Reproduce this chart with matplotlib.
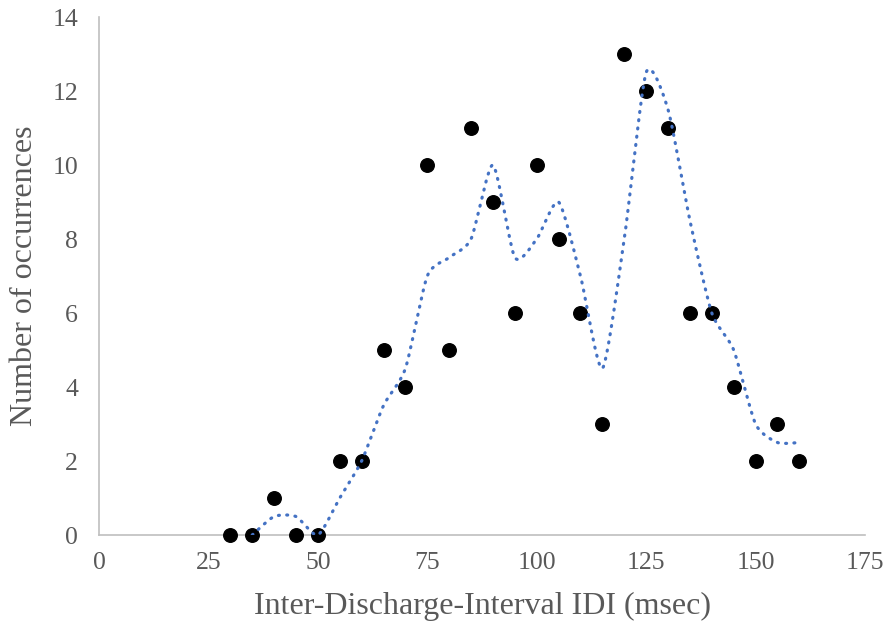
import numpy as np
import matplotlib
matplotlib.use("Agg")
import matplotlib.pyplot as plt

idi = [30, 35, 40, 45, 50, 55, 60, 65, 70, 75, 80, 85, 90, 95, 100, 105, 110,
       115, 120, 125, 130, 135, 140, 145, 150, 155, 160]
counts = [0, 0, 1, 0, 0, 2, 2, 5, 4, 10, 5, 11, 9, 6, 10, 8, 6,
          3, 13, 12, 11, 6, 6, 4, 2, 3, 2]
xticks = [0, 25, 50, 75, 100, 125, 150, 175]
yticks = [0, 2, 4, 6, 8, 10, 12, 14]

plt.rcParams['font.family'] = ['Liberation Serif', 'DejaVu Serif']

# 2-period moving average trendline
x = np.array(idi, float)
y = np.array(counts, float)
ma_x = x[1:]
ma_y = (y[1:] + y[:-1]) / 2.0

def smooth(px, py, n=30, k=9.0):
    xs, ys = [], []
    P = np.column_stack([px, py])
    for i in range(len(P) - 1):
        p0 = P[i - 1] if i > 0 else P[i]
        p1 = P[i]
        p2 = P[i + 1]
        p3 = P[i + 2] if i + 2 < len(P) else P[i + 1]
        c1 = p1 + (p2 - p0) / k
        c2 = p2 - (p3 - p1) / k
        t = np.linspace(0, 1, n, endpoint=(i == len(P) - 2))[:, None]
        B = ((1 - t) ** 3) * p1 + 3 * ((1 - t) ** 2) * t * c1 + 3 * (1 - t) * t ** 2 * c2 + t ** 3 * p2
        xs.append(B[:, 0]); ys.append(B[:, 1])
    return np.concatenate(xs), np.concatenate(ys)

sx, sy = smooth(ma_x, ma_y)

fig = plt.figure(figsize=(8.86, 6.26), dpi=100)
ax = fig.add_axes([99/886, 91/626, 766/886, 518/626])
ax.scatter(x, y, s=95, color='black', zorder=3, clip_on=False)
ax.plot(sx, sy, color='#4472C4', lw=2.3, linestyle=(0, (0.3, 2.3)),
        dash_capstyle='round', zorder=4)

ax.set_xlim(0, 175)
ax.set_ylim(0, 14)
ax.set_xticks(xticks)
ax.set_yticks(yticks)
for s in ['top', 'right']:
    ax.spines[s].set_visible(False)
for s in ['left', 'bottom']:
    ax.spines[s].set_color('#BFBFBF')
    ax.spines[s].set_linewidth(1.2)
ax.tick_params(length=0, labelsize=18.5, colors='#595959')
ax.tick_params(axis='x', pad=12)
ax.tick_params(axis='y', pad=15)
ax.set_xlabel('Inter-Discharge-Interval IDI (msec)', fontsize=23, color='#595959', labelpad=13)
ax.set_ylabel('Number of occurrences', fontsize=23, color='#595959', labelpad=10)

fig.savefig('out.png', dpi=100)
